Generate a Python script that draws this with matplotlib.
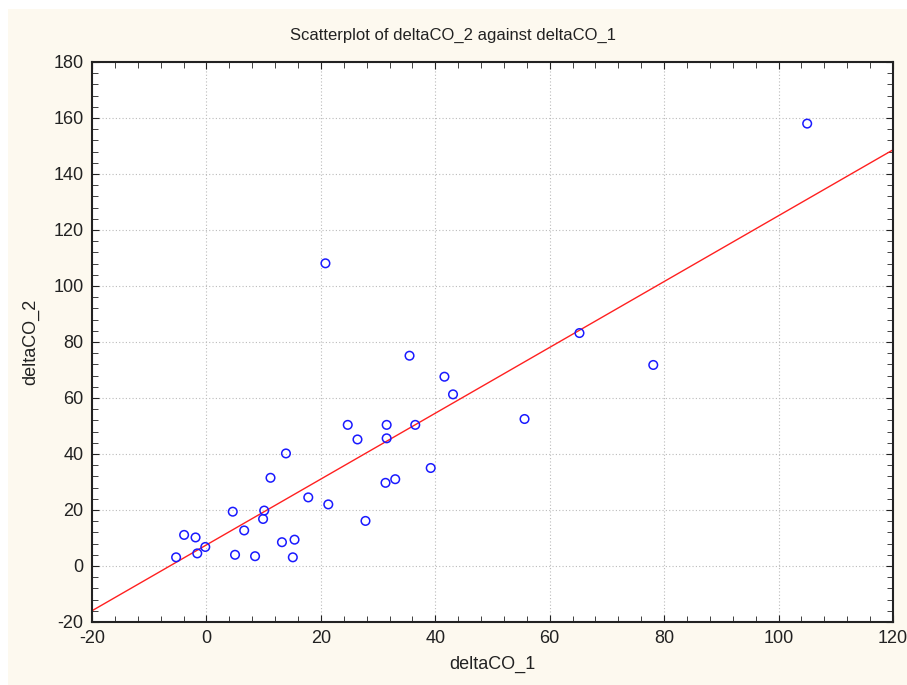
import numpy as np
import matplotlib
matplotlib.use("Agg")
import matplotlib.pyplot as plt
from matplotlib.ticker import MultipleLocator
from matplotlib.patches import Rectangle

delta_co_1 = [105.0, 65.2, 78.1, 55.6, 35.5, 41.6, 43.1, 20.8, 24.7, 31.5,
              36.5, 26.4, 31.5, 13.9, 39.2, 31.3, 33.0, 11.2, 17.8, 21.3,
              4.6, 10.1, 9.9, 6.6, 27.8, -3.9, -1.9, -0.2, -1.6, -5.3,
              5.0, 8.5, 13.2, 15.4, 15.1]
delta_co_2 = [158.0, 83.2, 71.8, 52.5, 75.1, 67.6, 61.3, 108.1, 50.4, 50.4,
              50.4, 45.2, 45.6, 40.2, 35.0, 29.7, 31.0, 31.5, 24.5, 22.0,
              19.4, 19.8, 16.8, 12.7, 16.1, 11.1, 10.2, 6.8, 4.5, 3.1,
              4.0, 3.5, 8.5, 9.4, 3.1]
x_ticks = [-20, 0, 20, 40, 60, 80, 100, 120]
y_ticks = [-20, 0, 20, 40, 60, 80, 100, 120, 140, 160, 180]

plt.rcParams['font.family'] = ['Liberation Sans', 'DejaVu Sans']
plt.rcParams['axes.unicode_minus'] = False

W, H = 907, 685
fig = plt.figure(figsize=(W / 100, H / 100), dpi=100)
fig.patch.set_facecolor('white')
fig.patches.append(Rectangle((8 / W, 0), 1, 1 - 9 / H, transform=fig.transFigure,
                             facecolor='#fdf9ef', edgecolor='none', zorder=-10))

ax = fig.add_axes([92 / W, 1 - 622 / H, (893 - 92) / W, (622 - 62) / H])
ax.set_facecolor('white')

x = np.array(delta_co_1)
y = np.array(delta_co_2)
slope, intercept = np.polyfit(x, y, 1)
xl = np.array([x_ticks[0], x_ticks[-1]])
ax.plot(xl, intercept + slope * xl, color='#ff2020', lw=1.0, zorder=2)

ax.scatter(x, y, s=38, facecolors='none', edgecolors='#1a1aff', linewidths=1.1, zorder=3)

ax.set_xlim(x_ticks[0], x_ticks[-1])
ax.set_ylim(y_ticks[0], y_ticks[-1])
ax.set_xticks(x_ticks)
ax.set_yticks(y_ticks)
ax.xaxis.set_minor_locator(MultipleLocator(4))
ax.yaxis.set_minor_locator(MultipleLocator(4))
ax.tick_params(which='both', direction='in', top=True, right=True, color='#222222')
ax.tick_params(which='major', length=5, labelsize=13, labelcolor='#222222', pad=6)
ax.tick_params(which='minor', length=4)
ax.grid(True, which='major', color='#bbbbbb', linestyle=(0, (1, 2)), lw=0.8)
for sp in ax.spines.values():
    sp.set_color('#222222')
    sp.set_linewidth(1.5)

ax.set_xlabel('deltaCO_1', fontsize=13, color='#222222', labelpad=6)
ax.set_ylabel('deltaCO_2', fontsize=13, color='#222222', labelpad=10)
fig.text(0.5, 1 - 35 / H, 'Scatterplot of deltaCO_2 against deltaCO_1',
         ha='center', va='center', fontsize=12, color='#222222')

fig.savefig('out.png', dpi=100, facecolor=fig.get_facecolor())
